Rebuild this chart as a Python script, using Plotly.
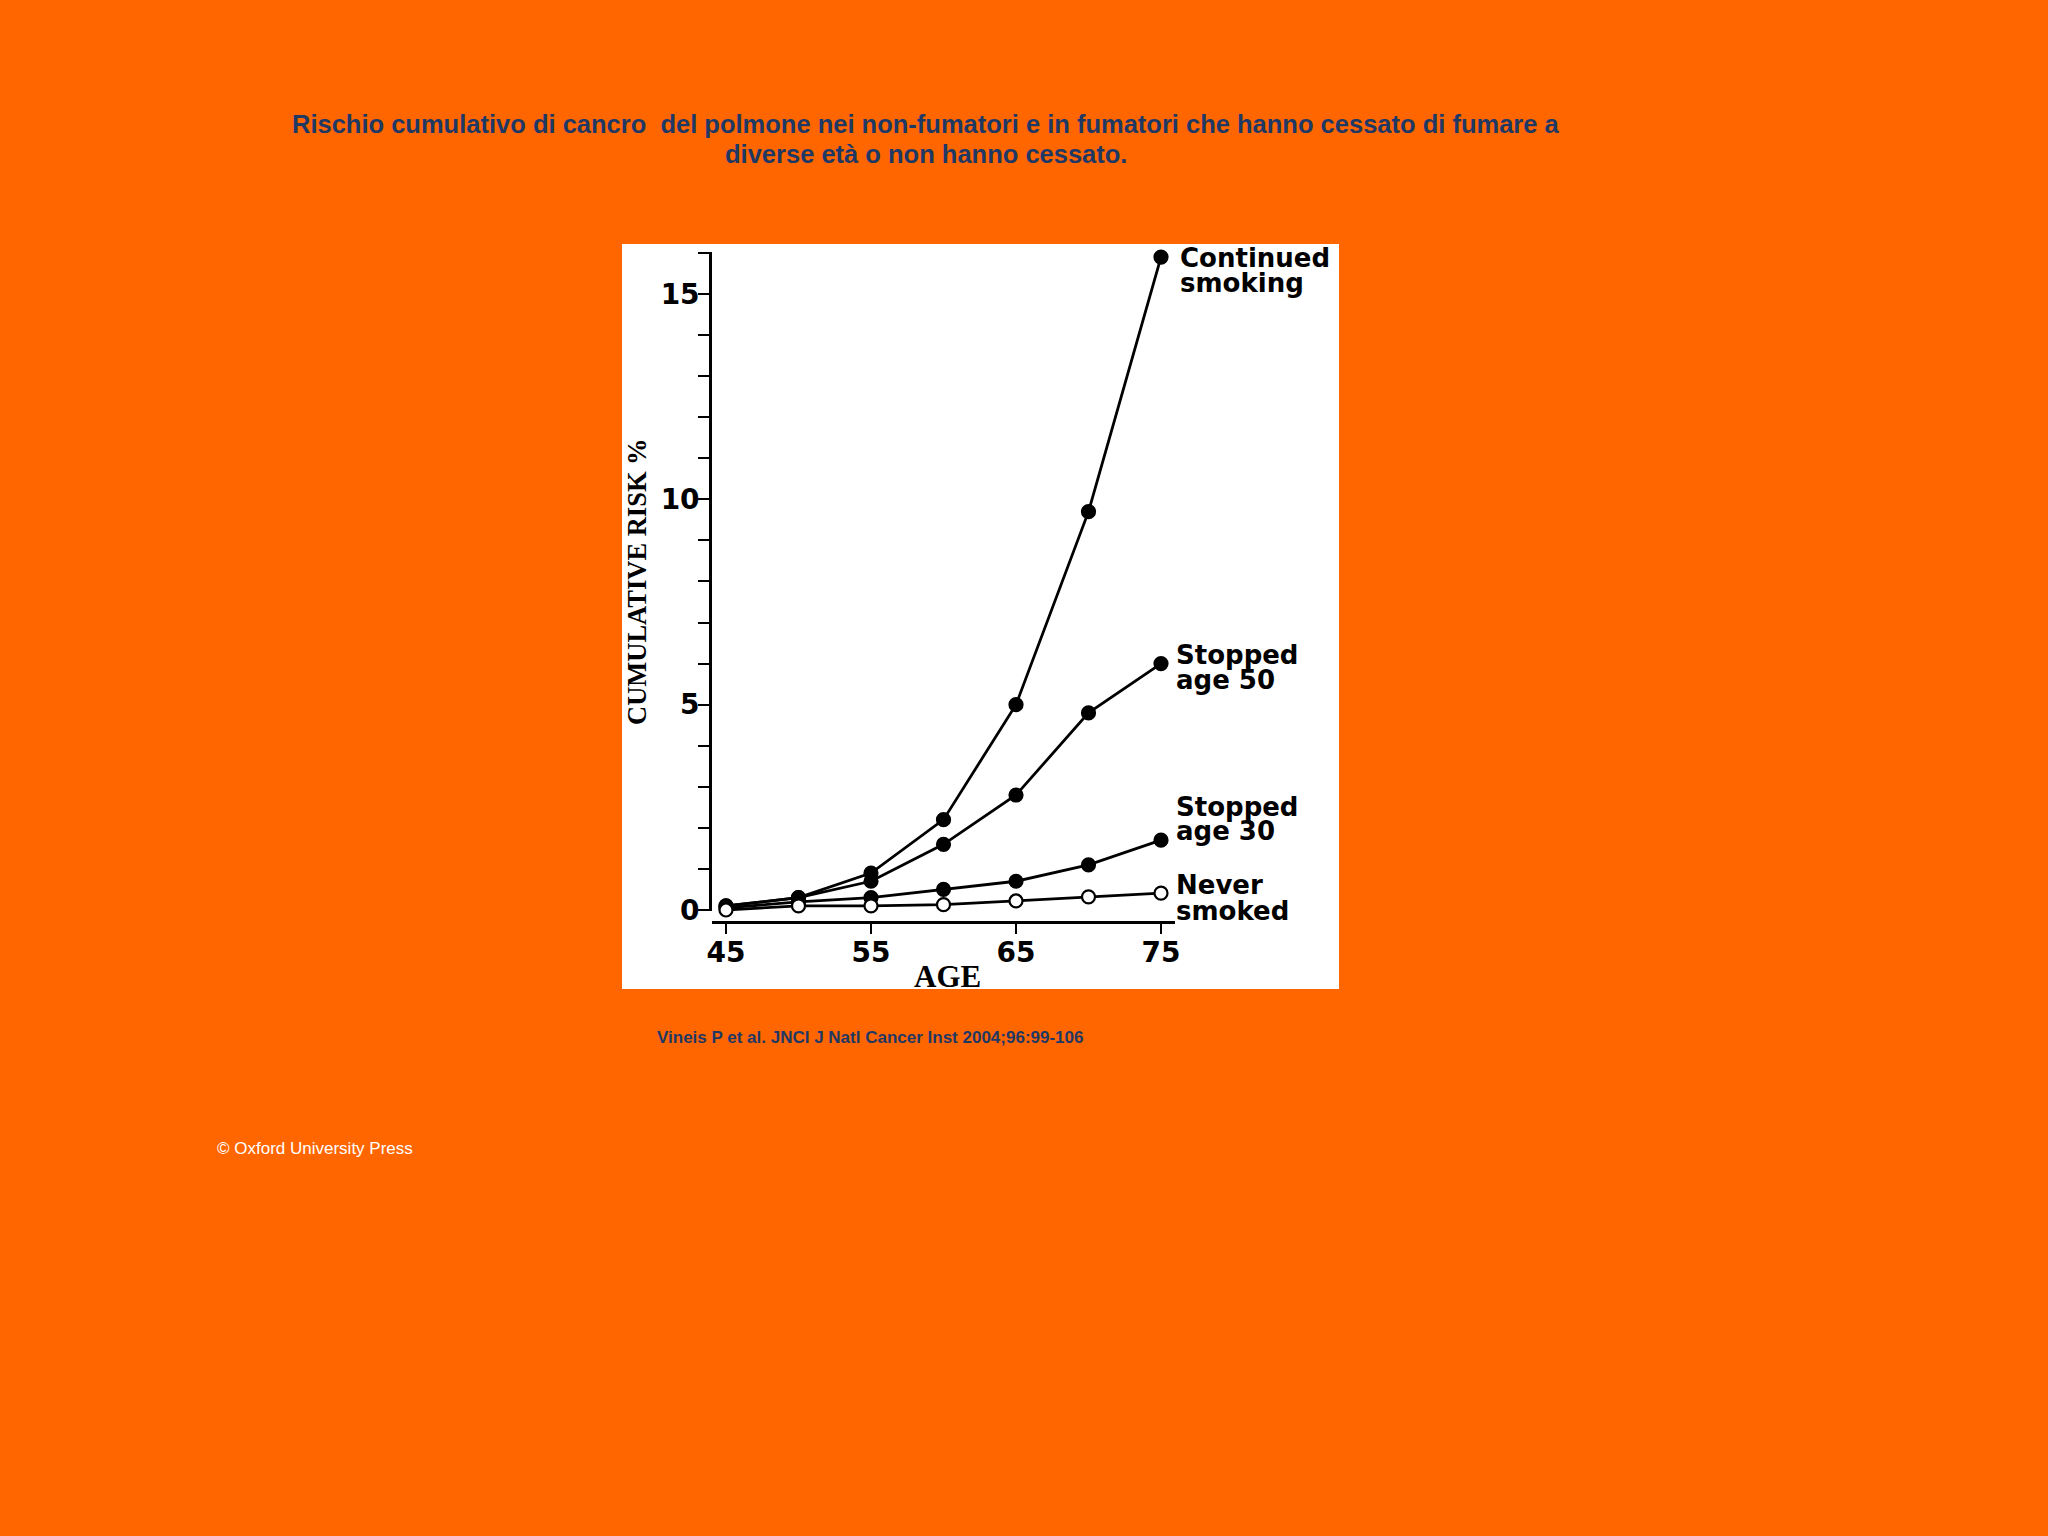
import plotly.graph_objects as go

# ---- data ----
ages = [45, 50, 55, 60, 65, 70, 75]
continued_smoking = [0.1, 0.3, 0.9, 2.2, 5.0, 9.7, 15.9]
stopped_age_50 = [0.1, 0.3, 0.7, 1.6, 2.8, 4.8, 6.0]
stopped_age_30 = [0.05, 0.2, 0.3, 0.5, 0.7, 1.1, 1.7]
never_smoked = [0.0, 0.1, 0.1, 0.13, 0.22, 0.32, 0.41]

x_ticks = [45, 55, 65, 75]
y_ticks = [0, 5, 10, 15]

title_lines = ["Rischio cumulativo di cancro  del polmone nei non-fumatori e in fumatori che hanno cessato di fumare a",
               "diverse età o non hanno cessato."]
citation = "Vineis P et al. JNCI J Natl Cancer Inst 2004;96:99-106"
copyright_text = "© Oxford University Press"

# ---- layout geometry (pixels) ----
W, H = 2048, 1536
L, R, T, B = 712, 1175, 252, 922
PW, PH = R - L, B - T

def px(xp):
    return (xp - L) / PW

def py(yp):
    return (B - yp) / PH

ORANGE = "#FF6600"
NAVY = "#1F3864"
SANS = "Liberation Sans, Arial, sans-serif"
WIDE = "DejaVu Sans, Liberation Sans, sans-serif"
SERIF = "Liberation Serif, Times New Roman, serif"

fig = go.Figure()

series = [
    ("Continued smoking", continued_smoking, "black"),
    ("Stopped age 50", stopped_age_50, "black"),
    ("Stopped age 30", stopped_age_30, "black"),
    ("Never smoked", never_smoked, "white"),
]
for name, vals, fill in series:
    fig.add_trace(go.Scatter(
        x=ages, y=vals, name=name, mode="lines+markers",
        line=dict(color="black", width=2.8),
        marker=dict(size=13, color=fill, line=dict(color="black", width=2.2)),
        cliponaxis=False, showlegend=False,
    ))

# series labels, one annotation per line
labels = [
    (continued_smoking, ["Continued", "smoking"], 18, [-1, -26]),
    (stopped_age_50, ["Stopped", "age 50"], 14, [9, -16]),
    (stopped_age_30, ["Stopped", "age 30"], 14, [33, 9]),
    (never_smoked, ["Never", "smoked"], 14, [8, -18]),
]
for vals, lines, xs, yss in labels:
    for txt, ys in zip(lines, yss):
        fig.add_annotation(
            x=ages[-1], y=vals[-1], xref="x", yref="y", text=txt,
            showarrow=False, xanchor="left", yanchor="middle",
            xshift=xs, yshift=ys, borderpad=0,
            font=dict(family=WIDE, size=26, color="black", weight="bold"),
        )

# title (two lines)
for txt, yc in zip(title_lines, [124, 154]):
    fig.add_annotation(
        x=px(926), y=py(yc), xref="paper", yref="paper", text=txt,
        showarrow=False, xanchor="center", yanchor="middle",
        font=dict(family=SANS, size=25.5, color=NAVY, weight="bold"),
    )

# axis titles
fig.add_annotation(
    x=px(637), y=py(582), xref="paper", yref="paper", text="CUMULATIVE RISK %",
    textangle=-90, showarrow=False, xanchor="center", yanchor="middle",
    font=dict(family=SERIF, size=26.5, color="black", weight="bold"),
)
fig.add_annotation(
    x=px(947), y=py(976), xref="paper", yref="paper", text="AGE",
    showarrow=False, xanchor="center", yanchor="middle",
    font=dict(family=SERIF, size=31, color="black", weight="bold"),
)

# citation and copyright
fig.add_annotation(
    x=px(655), y=py(1037), xref="paper", yref="paper", text=citation,
    showarrow=False, xanchor="left", yanchor="middle",
    font=dict(family=SANS, size=17, color=NAVY, weight="bold"),
)
fig.add_annotation(
    x=px(215), y=py(1148), xref="paper", yref="paper", text=copyright_text,
    showarrow=False, xanchor="left", yanchor="middle",
    font=dict(family=SANS, size=17, color="white"),
)

# white picture box
fig.add_shape(
    type="rect", xref="paper", yref="paper",
    x0=px(622), x1=px(1339), y0=py(989), y1=py(244),
    fillcolor="white", line=dict(width=0), layer="below",
)

y_dom0 = py(911)
y_top = 15 + (294 - 252) / 41.07
y_bot = 0 - (911 - 910) / 41.07

fig.update_layout(
    width=W, height=H,
    margin=dict(l=L, r=W - R, t=T, b=H - B),
    paper_bgcolor=ORANGE, plot_bgcolor="rgba(0,0,0,0)",
    xaxis=dict(
        range=[45 - 14 / 14.5, 75 + 14 / 14.5], tickvals=x_ticks,
        showline=True, linecolor="black", linewidth=2.6,
        ticks="outside", ticklen=10, tickwidth=2.4, tickcolor="black",
        showgrid=False, zeroline=False, anchor="free", position=0,
        tickfont=dict(family=WIDE, size=28, color="black", weight="bold"),
        ticklabelstandoff=-5,
    ),
    yaxis=dict(
        range=[y_bot, y_top], domain=[y_dom0, 1], tickvals=y_ticks,
        showline=True, linecolor="black", linewidth=2.6,
        ticks="outside", ticklen=11, tickwidth=2.4, tickcolor="black",
        minor=dict(dtick=1, tick0=0, ticks="outside", ticklen=11, tickwidth=2, tickcolor="black"),
        showgrid=False, zeroline=False,
        tickfont=dict(family=WIDE, size=28, color="black", weight="bold"),
        ticklabelstandoff=-7,
    ),
)

fig.write_html(
    "out.html",
    config={"displayModeBar": False},
    post_script="document.body.style.margin='0';document.body.style.background='" + ORANGE + "';",
)
